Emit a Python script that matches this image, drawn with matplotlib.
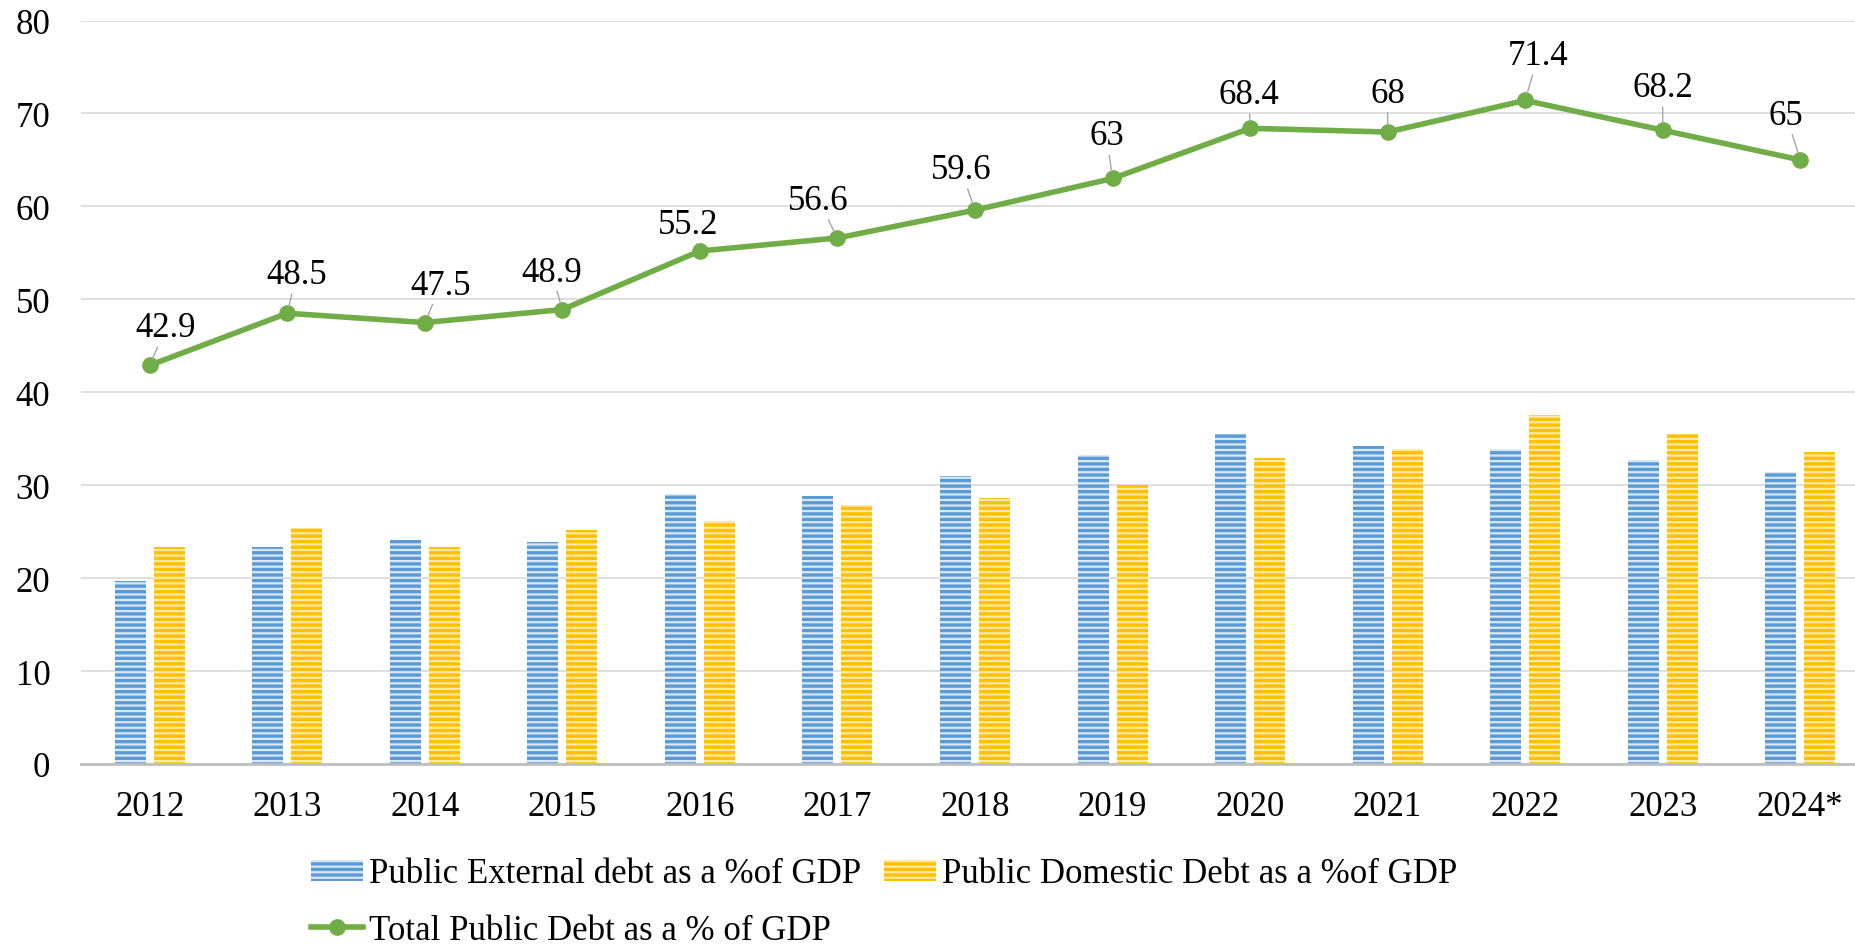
import matplotlib
matplotlib.use('Agg')
from matplotlib import pyplot as plt
from matplotlib.patches import Patch
from matplotlib.lines import Line2D
import numpy as np

# Datos
years = ['2012', '2013', '2014', '2015', '2016', '2017', '2018',
         '2019', '2020', '2021', '2022', '2023', '2024*']
external_debt = [19.7, 23.3, 24.1, 23.9, 29.1, 28.8, 31.0,
                 33.2, 35.5, 34.2, 33.9, 32.7, 31.4]
domestic_debt = [23.4, 25.4, 23.4, 25.2, 26.1, 27.9, 28.6,
                 30.0, 32.9, 33.9, 37.6, 35.5, 33.6]
total_debt = [42.9, 48.5, 47.5, 48.9, 55.2, 56.6, 59.6,
              63, 68.4, 68, 71.4, 68.2, 65]

# desplazamiento de cada etiqueta respecto a su punto (pixeles)
label_offsets = [(16, 29), (9, 30), (16, 29), (-11, 29), (-12, 18), (-19, 29),
                 (-14, 32), (-6, 34), (-1, 25), (0, 30), (13, 36), (0, 34), (-14, 36)]

BLUE_DARK, BLUE_LIGHT = '#5B9BD5', '#D9E7F6'
YELLOW_DARK, YELLOW_LIGHT = '#FFC000', '#FFE9A6'
GREEN = '#70AD47'

plt.rcParams['font.family'] = 'Liberation Serif'
plt.rcParams['font.size'] = 25
plt.rcParams['hatch.linewidth'] = 2.4

fig = plt.figure(figsize=(18.56, 9.53), dpi=100)
ax = fig.add_axes([81 / 1856, 188 / 953, 1788 / 1856, 743.5 / 953])

x = np.arange(len(years))
w = 0.2255
off = 0.142
ax.bar(x - off, external_debt, w, color=BLUE_LIGHT, edgecolor=BLUE_DARK,
       hatch='---', linewidth=0, zorder=2)
ax.bar(x + off, domestic_debt, w, color=YELLOW_LIGHT, edgecolor=YELLOW_DARK,
       hatch='---', linewidth=0, zorder=2)
ax.plot(x, total_debt, color=GREEN, lw=4, marker='o', markersize=11,
        solid_capstyle='round', zorder=4)

for xi, yi, (dx, dy) in zip(x, total_debt, label_offsets):
    ax.annotate(f'{yi:g}', xy=(xi, yi), xytext=(dx, dy), textcoords='offset pixels',
                ha='center', va='baseline', fontsize=25, zorder=5,
                arrowprops=dict(arrowstyle='-', color='#A6A6A6', lw=1,
                                shrinkA=0, shrinkB=5))

# Ejes
ax.set_xlim(-0.5, len(years) - 0.5)
ax.set_ylim(0, 80)
ax.set_yticks(range(0, 81, 10))
ax.set_xticks(x)
ax.set_xticklabels(years)
ax.tick_params(axis='both', length=0, labelsize=25)
ax.tick_params(axis='y', pad=22)
ax.tick_params(axis='x', pad=19)
ax.grid(axis='y', color='#D9D9D9', lw=1.2, zorder=0)
ax.set_axisbelow(True)
for side in ['top', 'right', 'left']:
    ax.spines[side].set_visible(False)
ax.spines['bottom'].set_color('#BFBFBF')
ax.spines['bottom'].set_linewidth(2)
ax.spines['bottom'].set_zorder(3)

# Leyenda en dos filas
bar_handles = [Patch(facecolor=BLUE_LIGHT, edgecolor=BLUE_DARK, hatch='---', linewidth=0),
               Patch(facecolor=YELLOW_LIGHT, edgecolor=YELLOW_DARK, hatch='---', linewidth=0)]
leg1 = fig.legend(bar_handles,
                  ['Public External debt as a %of GDP', 'Public Domestic Debt as a %of GDP'],
                  loc='center left', bbox_to_anchor=(311 / 1856, 78 / 953), ncol=2,
                  frameon=False, fontsize=25, handlelength=1.5, handleheight=0.55,
                  handletextpad=0.17, columnspacing=0.65, borderpad=0, borderaxespad=0)
line_handle = [Line2D([0], [0], color=GREEN, lw=4, marker='o', markersize=11)]
leg2 = fig.legend(line_handle, ['Total Public Debt as a % of GDP'],
                  loc='center left', bbox_to_anchor=(311 / 1856, 21 / 953),
                  frameon=False, fontsize=25, handlelength=1.5,
                  handletextpad=0.17, borderpad=0, borderaxespad=0)

plt.savefig('out.png', dpi=100)
